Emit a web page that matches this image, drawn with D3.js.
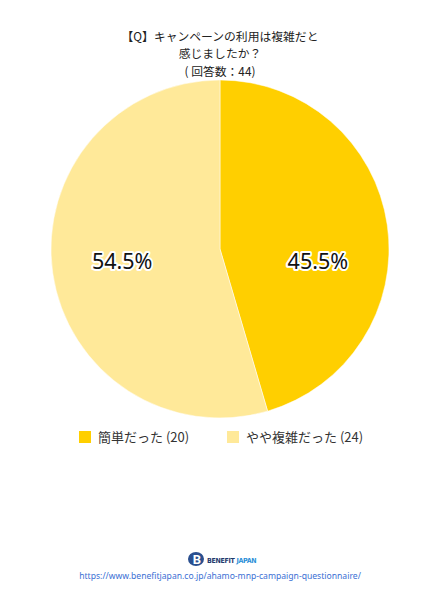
<!DOCTYPE html>
<html>
<head>
<meta charset="utf-8">
<script src="https://cdn.jsdelivr.net/npm/d3@7"></script>
<style>
  body { margin: 0; background: #fff; }
  svg { display: block; font-family: "Noto Sans CJK JP", "Noto Sans", sans-serif; }
</style>
</head>
<body>
<div id="chart"></div>
<script>
const titleLines = ['【Q】キャンペーンの利用は複雑だと', '感じましたか？', '( 回答数：44)'];
const categories = ['簡単だった', 'やや複雑だった'];
const counts = [20, 24];
const colors = ['#FFCF00', '#FFE999'];
const sourceUrl = 'https://www.benefitjapan.co.jp/ahamo-mnp-campaign-questionnaire/';

const width = 440;
const height = 600;
const cx = 220, cy = 249, radius = 169;

const svg = d3.select('#chart')
  .append('svg')
  .attr('width', width)
  .attr('height', height);

// title
svg.append('g')
  .selectAll('text')
  .data(titleLines)
  .join('text')
  .attr('x', width / 2)
  .attr('y', (d, i) => 40.5 + i * 17.5)
  .attr('text-anchor', 'middle')
  .attr('font-size', 11.8)
  .attr('fill', '#222')
  .text(d => d);

const total = d3.sum(counts);
const data = categories.map((c, i) => ({ name: c, value: counts[i], color: colors[i] }));

const pie = d3.pie().value(d => d.value).sort(null);
const arc = d3.arc().innerRadius(0).outerRadius(radius);
const labelArc = d3.arc().innerRadius(radius * 0.585).outerRadius(radius * 0.585);

const g = svg.append('g').attr('transform', `translate(${cx},${cy})`);

g.selectAll('path')
  .data(pie(data))
  .join('path')
  .attr('d', arc)
  .attr('fill', d => d.data.color)
  .attr('stroke', '#fff')
  .attr('stroke-width', 0.5);

// percentage labels (both sit just below the centre line)
g.selectAll('text')
  .data(pie(data))
  .join('text')
  .attr('transform', d => {
    const [x, y] = labelArc.centroid(d);
    return `translate(${x},${Math.abs(y) - 2})`;
  })
  .attr('text-anchor', 'middle')
  .attr('dy', '0.35em')
  .attr('font-family', '"Noto Sans", sans-serif')
  .attr('font-size', 21.5)
  .attr('fill', '#111')
  .attr('stroke', '#fff')
  .attr('stroke-width', 4)
  .attr('stroke-linejoin', 'round')
  .attr('paint-order', 'stroke')
  .text(d => (d.data.value / total * 100).toFixed(1) + '%');

// legend
const legendX = d3.scaleOrdinal().domain(categories).range([79, 227]);
const legend = svg.append('g')
  .selectAll('g')
  .data(data)
  .join('g')
  .attr('transform', d => `translate(${legendX(d.name)},431)`);

legend.append('rect')
  .attr('width', 12)
  .attr('height', 12)
  .attr('fill', d => d.color);

legend.append('text')
  .attr('x', 19)
  .attr('y', 11)
  .attr('font-size', 13)
  .attr('fill', '#333')
  .text(d => `${d.name} (${d.value})`);

// logo
const logo = svg.append('g').attr('transform', 'translate(188,551)');
logo.append('ellipse')
  .attr('cx', 8).attr('cy', 8).attr('rx', 8).attr('ry', 7)
  .attr('fill', '#2a4f8f');
logo.append('text')
  .attr('x', 9).attr('y', 13)
  .attr('text-anchor', 'middle')
  .attr('font-family', 'Roboto, sans-serif')
  .attr('font-weight', 'bold')
  .attr('font-size', 13)
  .attr('fill', '#fff')
  .text('B');
logo.append('text')
  .attr('x', 19).attr('y', 11.5)
  .attr('font-family', '"DejaVu Sans Condensed", Roboto, sans-serif')
  .attr('font-weight', 'bold')
  .attr('font-size', 7)
  .attr('letter-spacing', -0.3)
  .attr('fill', '#1f3a6e')
  .text('BENEFIT')
  .append('tspan')
  .attr('fill', '#2b8fd8')
  .text(' JAPAN');

// source url
svg.append('text')
  .attr('x', width / 2)
  .attr('y', 579)
  .attr('text-anchor', 'middle')
  .attr('font-family', '"Noto Sans", sans-serif')
  .attr('font-size', 8.6)
  .attr('fill', '#3b6fd4')
  .text(sourceUrl);
</script>
</body>
</html>
